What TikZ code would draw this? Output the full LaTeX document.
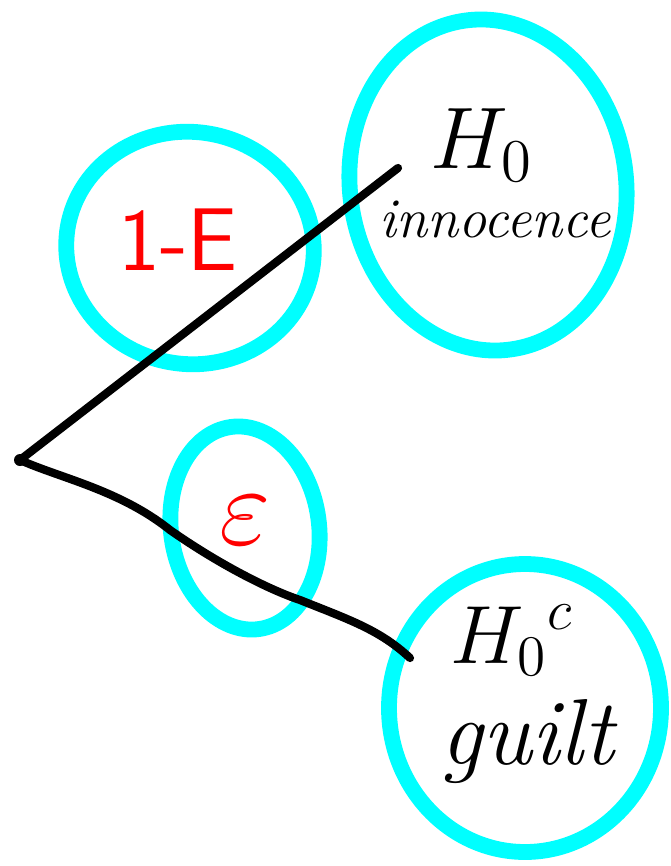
\documentclass[tikz,border=0pt]{standalone}
\usepackage{fontspec}
\definecolor{ringcyan}{RGB}{0,255,255}
\begin{document}
\begin{tikzpicture}[x=0.03cm,y=-0.03cm,
  ring/.style={draw=ringcyan,line width=13.5pt},
  edge/.style={draw=black,line width=7pt,line cap=round,line join=round},
  lbl/.style={inner sep=0pt},
  mathlbl/.style={inner sep=0pt,font=\fontsize{20}{20}\selectfont},
  redlbl/.style={inner sep=0pt,text=red}]
\useasboundingbox (0,0) rectangle (671,866);
% rings
\draw[ring,rotate around={8:(488,185)}] (488,185) ellipse [x radius=138,y radius=166];
\draw[ring,rotate around={-10:(190,248)}] (190,248) ellipse [x radius=124,y radius=116];
\draw[ring,rotate around={8:(245,528)}] (245,528) ellipse [x radius=74,y radius=102];
\draw[ring] (525,708) ellipse [x radius=136,y radius=144];
% points
\coordinate (v) at (20,460);
\coordinate (a) at (398,168);
\coordinate (b) at (410,658);
\draw[edge] (v) -- (a);
\draw[edge] (v) .. controls (60,478) and (120,490) .. (170,530)
  .. controls (220,565) and (270,590) .. (300,600)
  .. controls (350,620) and (380,630) .. (b);
\fill (v) circle [radius=6];
% labels
\node[mathlbl,scale=3.6] (h0) at (482,145) {$H_0$};
\node[lbl,font=\itshape\fontsize{48}{48}\selectfont] (inn) at (495,220) {innocence};
\node[redlbl,font=\sffamily\fontsize{76}{76}\selectfont] (ne) at (178,240) {1-E};
\node[redlbl,mathlbl,scale=4.6,text=red] (eps) at (245,520) {$\varepsilon$};
\node[mathlbl,scale=3.4] (h0c) at (512,640) {${H_0}^c$};
\node[lbl,font=\itshape\fontsize{80}{80}\selectfont] (g) at (527,742) {guilt};
\end{tikzpicture}
\end{document}
